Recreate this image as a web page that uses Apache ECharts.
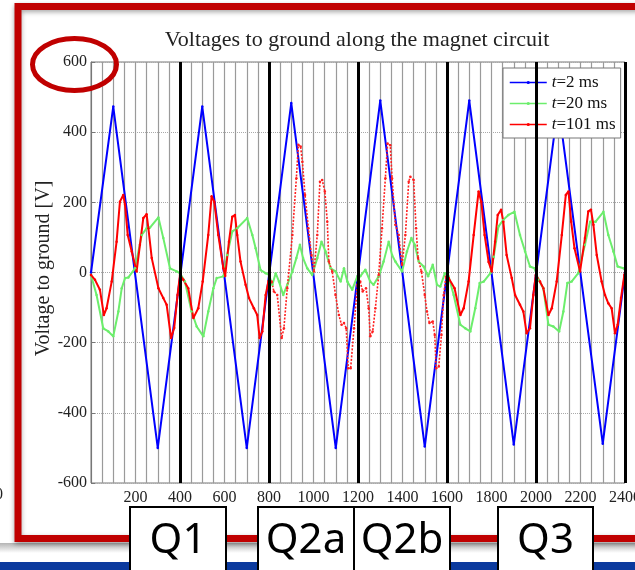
<!DOCTYPE html>
<html>
<head>
<meta charset="utf-8">
<script src="https://cdn.jsdelivr.net/npm/echarts@6/dist/echarts.min.js"></script>
<style>html,body{margin:0;padding:0;background:#fff;}#c{width:635px;height:570px;}</style>
</head>
<body>
<div id="c"></div>
<script>
const seriesNames = ['t=2 ms', 't=20 ms', 't=101 ms'];
const xTickLabels = [200, 400, 600, 800, 1000, 1200, 1400, 1600, 1800, 2000, 2200, 2400];
const yTicks = [-600, -400, -200, 0, 200, 400, 600];
const sectionBounds = [400, 800, 1200, 1600, 2000, 2400];
const sectionLabels = ['Q1', 'Q2a', 'Q2b', 'Q3'];

const blue2ms = [[0,0],[100,473],[300,-500],[500,473],[700,-500],[900,483],[1100,-500],[1300,490],[1500,-496],[1700,490],[1900,-490],[2100,480],[2300,-488],[2400,0]];

const green20ms = [[0,-7],[25,-64],[55,-159],[78,-168],[100,-182],[123,-111],[138,-45],[153,-16],[168,-14],[198,12],[228,107],[250,126],[265,128],[303,157],[325,98],[355,12],[385,3],[400,-2],[422,-26],[452,-111],[475,-154],[505,-182],[527,-111],[550,-45],[565,-16],[595,-11],[612,50],[635,117],[657,126],[702,155],[725,107],[740,69],[762,7],[785,-2],[800,-7],[815,-35],[830,-2],[845,-26],[864,-64],[882,-35],[905,3],[923,41],[939,79],[953,41],[972,12],[994,-7],[1017,41],[1036,88],[1054,60],[1077,12],[1099,3],[1122,-26],[1137,12],[1152,-26],[1174,-49],[1197,-11],[1210,-11],[1233,8],[1255,-26],[1270,-35],[1293,-11],[1315,31],[1338,88],[1353,50],[1368,31],[1398,3],[1420,60],[1440,98],[1455,79],[1473,31],[1495,17],[1515,-11],[1536,22],[1555,-35],[1570,-40],[1590,-2],[1607,-11],[1630,-64],[1660,-149],[1682,-159],[1705,-168],[1727,-102],[1747,-30],[1765,-26],[1795,-2],[1810,45],[1831,131],[1853,150],[1876,164],[1903,173],[1928,107],[1951,60],[1973,17],[1993,12],[2011,-21],[2033,-45],[2056,-149],[2078,-154],[2104,-168],[2123,-111],[2141,-30],[2160,-26],[2190,-2],[2220,79],[2243,145],[2268,145],[2303,173],[2325,107],[2348,60],[2367,17],[2393,12],[2400,8]];

const red101msA = [[0,-7],[18,-21],[40,-49],[58,-121],[70,-102],[93,-26],[115,88],[130,202],[145,221],[153,193],[165,107],[183,60],[205,3],[220,79],[235,155],[250,166],[258,126],[273,41],[303,-45],[325,-73],[340,-92],[360,-187],[374,-158],[389,-64],[400,-7],[415,-21],[437,-45],[460,-130],[482,-102],[502,-26],[527,107],[542,217],[554,202],[572,107],[595,12],[603,-10],[620,88],[635,159],[647,164],[657,107],[672,31],[695,-35],[710,-73],[732,-102],[747,-121],[758,-187],[770,-168],[785,-64],[797,-26]];

const red101msB = [[797,-26],[812,-26],[822,-54],[837,-64],[857,-187],[867,-159],[882,-45],[905,107],[923,269],[932,364],[942,359],[950,316],[962,221],[977,126],[991,50],[1002,3],[1017,107],[1029,259],[1039,264],[1051,231],[1062,145],[1069,31],[1084,3],[1099,-64],[1114,-121],[1126,-149],[1137,-144],[1147,-159],[1156,-273],[1167,-273],[1182,-159],[1197,-35],[1210,-26],[1221,-54],[1236,-45],[1248,-102],[1255,-182],[1266,-168],[1278,-102],[1293,-7],[1308,126],[1323,269],[1333,368],[1345,363],[1353,269],[1368,136],[1383,107],[1398,22],[1413,107],[1428,259],[1435,273],[1450,264],[1461,126],[1470,41],[1485,3],[1500,-64],[1510,-111],[1521,-144],[1536,-140],[1545,-178],[1551,-273],[1563,-268],[1575,-178],[1585,-64],[1595,-12],[1607,-16]];

const red101msC = [[1607,-16],[1634,-45],[1660,-121],[1675,-102],[1697,-26],[1720,107],[1742,231],[1754,202],[1769,107],[1787,30],[1801,3],[1816,88],[1828,164],[1843,179],[1853,145],[1868,50],[1891,-16],[1906,-64],[1928,-92],[1943,-111],[1958,-173],[1973,-159],[1988,-64],[1999,-7],[2018,-26],[2033,-45],[2056,-121],[2071,-102],[2093,-26],[2116,107],[2134,221],[2146,231],[2158,145],[2173,69],[2198,3],[2220,98],[2235,174],[2247,179],[2258,136],[2273,50],[2295,-26],[2310,-64],[2325,-88],[2340,-102],[2355,-173],[2367,-149],[2382,-73],[2397,-7],[2400,0]];

const SERIF = '"Liberation Serif", "DejaVu Serif", serif';
const RED = '#C00000';
const chart = echarts.init(document.getElementById('c'), null, {renderer: 'canvas'});

function lineSeries(name, data, color, width, extra) {
  return Object.assign({
    name: name, type: 'line', data: data, z: 3,
    symbol: 'circle', symbolSize: 2.5, showSymbol: true,
    lineStyle: {color: color, width: width},
    itemStyle: {color: color},
    emphasis: {disabled: true}
  }, extra || {});
}

const boxX = [130, 258, 354, 498];
const boxW = [96, 96, 96, 95];
const graphics = [
  {type: 'rect', z: -5, shape: {x: 18, y: 6.5, width: 700, height: 532},
   style: {fill: '#fff', stroke: RED, lineWidth: 7, shadowBlur: 5, shadowOffsetY: 2, shadowColor: 'rgba(0,0,0,0.35)'}},
  {type: 'rect', z: -6, shape: {x: 0, y: 543, width: 635, height: 10},
   style: {fill: new echarts.graphic.LinearGradient(0, 0, 0, 1, [{offset: 0, color: '#b4b4b4'}, {offset: 1, color: '#ffffff'}])}},
  {type: 'rect', z: 50, shape: {x: 0, y: 562, width: 635, height: 8}, style: {fill: '#0B3A9E'}},
  {type: 'ellipse', z: 100, shape: {cx: 74.5, cy: 64.5, rx: 42, ry: 26}, style: {fill: 'none', stroke: RED, lineWidth: 5}},
  {type: 'text', z: 100, x: 357, y: 40, style: {text: 'Voltages to ground along the magnet circuit', font: '22px ' + SERIF, fill: '#222', textAlign: 'center', textVerticalAlign: 'middle'}},
  {type: 'text', z: 100, x: -5, y: 495, style: {text: '0', font: '16px ' + SERIF, fill: '#222', textAlign: 'left', textVerticalAlign: 'middle'}}
];
sectionLabels.forEach(function (lab, i) {
  graphics.push({type: 'rect', z: 60, shape: {x: boxX[i], y: 507, width: boxW[i], height: 70}, style: {fill: '#fff', stroke: '#000', lineWidth: 2}});
  graphics.push({type: 'text', z: 61, x: boxX[i] + boxW[i] / 2, y: 541, style: {text: lab, font: '42px "Noto Sans", "Open Sans", sans-serif', fill: '#000', textAlign: 'center', textVerticalAlign: 'middle'}});
});

const option = {
  animation: false,
  backgroundColor: '#fff',
  grid: {left: 91, right: 10, top: 62, bottom: 87, show: true, borderColor: '#777', borderWidth: 1, outerBoundsMode: 'none', containLabel: false},
  legend: {
    data: seriesNames, orient: 'vertical', left: 503, top: 68,
    backgroundColor: '#fff', borderColor: '#777', borderWidth: 1,
    padding: [6, 5, 5, 6], itemGap: 4, itemWidth: 37, itemHeight: 4,
    lineStyle: {width: 1.5},
    textStyle: {fontFamily: SERIF, fontSize: 17, color: '#111',
      rich: {i: {fontStyle: 'italic', fontFamily: SERIF, fontSize: 17, color: '#111'}, n: {fontFamily: SERIF, fontSize: 17, color: '#111'}}},
    formatter: function (n) { return '{i|t}{n|' + n.slice(1) + '}'; }
  },
  xAxis: {
    type: 'value', min: 0, max: 2400, interval: 50,
    axisLine: {show: false}, axisTick: {show: false},
    axisLabel: {fontFamily: SERIF, fontSize: 16, color: '#222', margin: 7, hideOverlap: false,
      formatter: function (v) { return xTickLabels.indexOf(v) >= 0 ? String(v) : ''; }},
    splitLine: {show: true, lineStyle: {color: '#9a9a9a', width: 1.2}}
  },
  yAxis: {
    type: 'value', min: yTicks[0], max: yTicks[yTicks.length - 1], interval: 200,
    name: 'Voltage to ground [V]', nameLocation: 'middle', nameGap: 37, nameMoveOverlap: false,
    nameTextStyle: {fontFamily: SERIF, fontSize: 20, color: '#222', padding: [0, 0, 0, 8]},
    axisLine: {show: true, lineStyle: {color: '#777'}},
    axisTick: {show: true, inside: true, length: 4, lineStyle: {color: '#777'}},
    axisLabel: {fontFamily: SERIF, fontSize: 16, color: '#222', margin: 4},
    splitLine: {show: true, lineStyle: {color: '#aaa', type: 'dotted', width: 1}}
  },
  graphic: graphics,
  series: [
    {name: 'sections', type: 'line', data: [], z: 1, silent: true,
     markLine: {silent: true, symbol: 'none', label: {show: false}, animation: false,
       lineStyle: {color: '#000', width: 3, type: 'solid'},
       data: sectionBounds.map(function (v) { return {xAxis: v}; })}},
    lineSeries(seriesNames[0], blue2ms, '#0000FF', 2),
    lineSeries(seriesNames[1], green20ms, '#6CEE6C', 2),
    lineSeries(seriesNames[2], red101msA, '#FF0000', 2),
    lineSeries(seriesNames[2], red101msB, '#FF2020', 1.6, {lineStyle: {color: '#FF2020', width: 1.6, type: [2, 1.5]}, symbolSize: 2.5}),
    lineSeries(seriesNames[2], red101msC, '#FF0000', 2)
  ]
};
chart.setOption(option);
</script>
</body>
</html>
